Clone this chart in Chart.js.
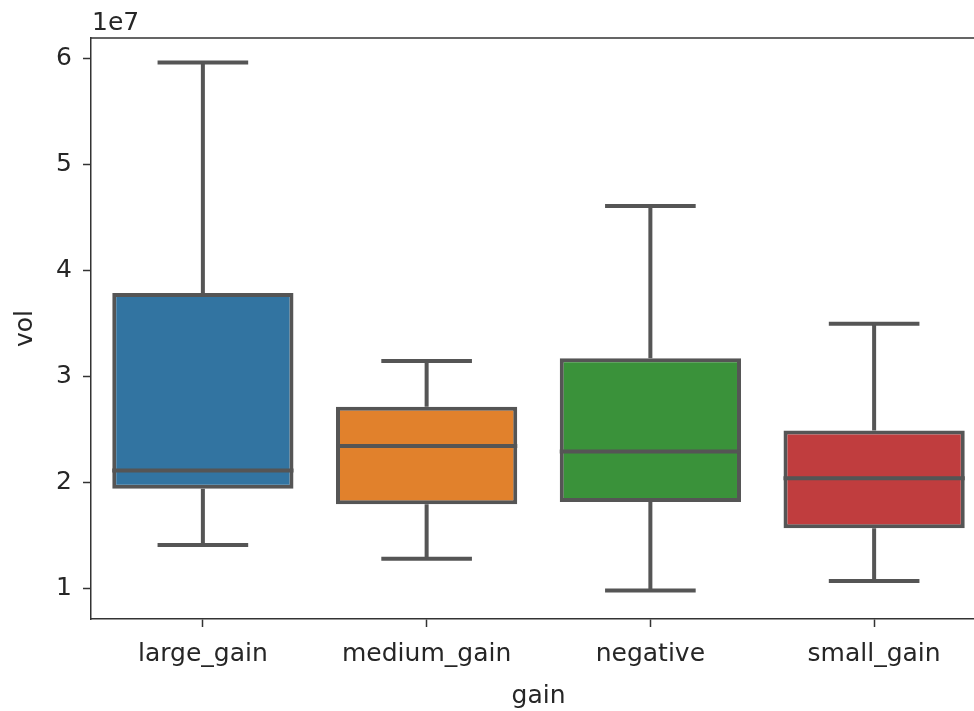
<!DOCTYPE html>
<html>
<head>
<meta charset="utf-8">
<script src="https://cdn.jsdelivr.net/npm/chart.js@4.4.1/dist/chart.umd.min.js"></script>
<style>
  html, body { margin: 0; padding: 0; background: #fff; overflow: hidden; }
  #wrap { width: 990px; height: 711px; position: relative; }
</style>
</head>
<body>
<div id="wrap"><canvas id="c"></canvas></div>
<script>
// ---- data (values in raw units; axis shows them x 1e7) ----
const categories = ['large_gain', 'medium_gain', 'negative', 'small_gain'];
const whiskerHigh = [59670000, 31470000, 46120000, 35000000];
const q3Values    = [37900000, 27150000, 31720000, 24900000];
const medians     = [21130000, 23440000, 22930000, 20400000];
const q1Values    = [19400000, 17950000, 18150000, 15680000];
const whiskerLow  = [14100000, 12790000,  9790000, 10700000];
const yTickValues = [10000000, 20000000, 30000000, 40000000, 50000000, 60000000];
const boxColors   = ['#3274a1', '#e1812c', '#3a923a', '#c03d3e'];

const lineColor = '#555555';
const textColor = '#262626';
const FONT = 'DejaVu Sans';

const boxPlugin = {
  id: 'boxParts',
  beforeDatasetsDraw(chart) {
    const { ctx, scales: { x, y } } = chart;
    const meta = chart.getDatasetMeta(0);
    ctx.save();
    ctx.strokeStyle = lineColor;
    ctx.lineWidth = 4;
    ctx.lineCap = 'butt';
    categories.forEach((c, i) => {
      const bar = meta.data[i];
      const cx = x.getPixelForValue(i);
      const capHalf = bar.width / 4;
      const yHi = y.getPixelForValue(whiskerHigh[i]);
      const yLo = y.getPixelForValue(whiskerLow[i]);
      const yQ3 = y.getPixelForValue(q3Values[i]);
      const yQ1 = y.getPixelForValue(q1Values[i]);
      ctx.beginPath();
      ctx.moveTo(cx, yQ3); ctx.lineTo(cx, yHi);
      ctx.moveTo(cx, yQ1); ctx.lineTo(cx, yLo);
      ctx.moveTo(cx - capHalf, yHi); ctx.lineTo(cx + capHalf, yHi);
      ctx.moveTo(cx - capHalf, yLo); ctx.lineTo(cx + capHalf, yLo);
      ctx.stroke();
    });
    ctx.restore();
  },
  afterDatasetsDraw(chart) {
    const { ctx, scales: { x, y } } = chart;
    const meta = chart.getDatasetMeta(0);
    ctx.save();
    ctx.strokeStyle = lineColor;
    ctx.lineWidth = 4;
    categories.forEach((c, i) => {
      const bar = meta.data[i];
      const cx = x.getPixelForValue(i);
      const half = bar.width / 2;
      const ym = y.getPixelForValue(medians[i]);
      ctx.beginPath();
      ctx.moveTo(cx - half, ym); ctx.lineTo(cx + half, ym);
      ctx.stroke();
    });
    ctx.restore();
  },
  afterDraw(chart) {
    const { ctx, chartArea: a } = chart;
    ctx.save();
    ctx.strokeStyle = '#333333';
    ctx.lineWidth = 1.5;
    ctx.beginPath();
    ctx.moveTo(a.left, a.top); ctx.lineTo(a.right, a.top); ctx.lineTo(a.right, a.bottom);
    ctx.stroke();
    ctx.fillStyle = textColor;
    ctx.font = '25px "' + FONT + '"';
    ctx.textAlign = 'left';
    ctx.textBaseline = 'alphabetic';
    ctx.fillText('1e7', a.left + 1, a.top - 8);
    ctx.restore();
  }
};

new Chart(document.getElementById('c'), {
  type: 'bar',
  data: {
    labels: categories,
    datasets: [{
      data: categories.map((c, i) => [q1Values[i], q3Values[i]]),
      backgroundColor: boxColors,
      borderColor: lineColor,
      borderWidth: 4,
      borderSkipped: false,
      barPercentage: 0.81,
      categoryPercentage: 1.0
    }]
  },
  options: {
    responsive: true,
    maintainAspectRatio: false,
    animation: false,
    events: [],
    layout: { padding: { left: 0, top: 38, right: 4, bottom: 0 } },
    plugins: { legend: { display: false }, tooltip: { enabled: false } },
    scales: {
      x: {
        offset: true,
        grid: { offset: false, drawOnChartArea: false, drawTicks: true, tickLength: 8, tickWidth: 1.5, tickColor: '#333333' },
        border: { display: true, color: '#333333', width: 1.5 },
        ticks: { color: textColor, font: { family: FONT, size: 25 }, padding: 12, maxRotation: 0, autoSkip: false },
        title: { display: true, text: 'gain', color: textColor, font: { family: FONT, size: 25 }, padding: { top: 5, bottom: 0 } },
        afterFit(scale) { scale.height = 92; }
      },
      y: {
        min: 7100000,
        max: 61980000,
        afterBuildTicks(scale) { scale.ticks = yTickValues.map(v => ({ value: v })); },
        grid: { drawOnChartArea: false, drawTicks: true, tickLength: 8, tickWidth: 1.5, tickColor: '#333333' },
        border: { display: true, color: '#333333', width: 1.5 },
        ticks: { color: textColor, font: { family: FONT, size: 25 }, padding: 11, callback: v => String(Math.round(v / 1e7)) },
        title: { display: true, text: 'vol', color: textColor, font: { family: FONT, size: 25 }, padding: { top: 10, bottom: 0 } },
        afterFit(scale) { scale.width = 91; }
      }
    }
  },
  plugins: [boxPlugin]
});
</script>
</body>
</html>
